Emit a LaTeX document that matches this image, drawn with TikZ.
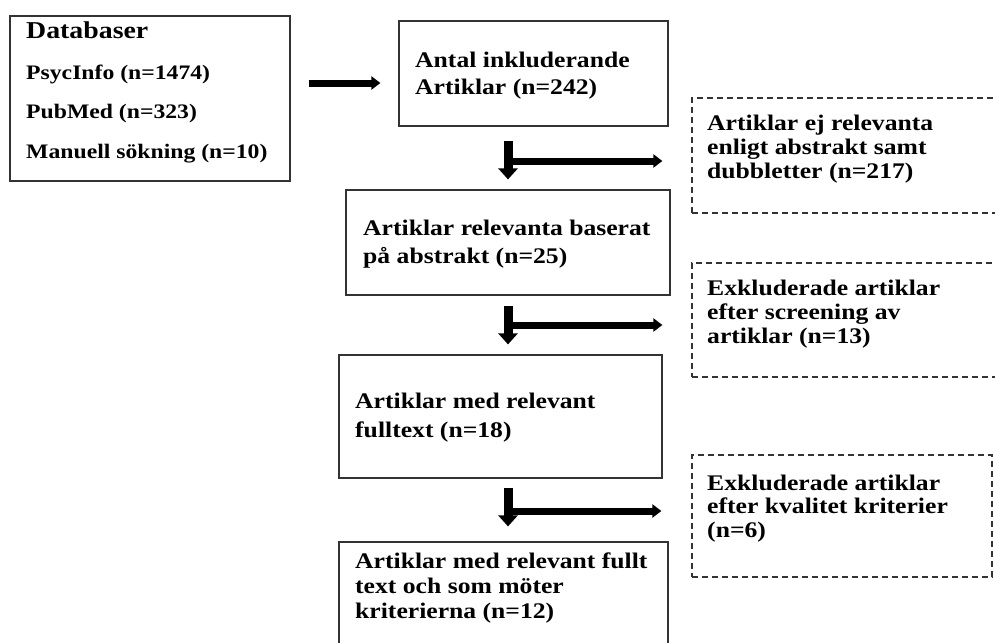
\documentclass[tikz,border=0pt]{standalone}
\usepackage{fontspec}
\setmainfont{Liberation Serif}[FakeStretch=1.15]
\usepackage{tikz}
\usetikzlibrary{arrows.meta,positioning}

\begin{document}
\begin{tikzpicture}[x=1pt,y=-1pt,
  box/.style={draw=black!80,line width=1.2pt,rectangle,inner sep=0pt},
  dbox/.style={box,dash pattern=on 6pt off 4pt},
  txt/.style={anchor=base west,align=left,inner sep=0pt,font=\bfseries\fontsize{22.3}{24}\selectfont},
  harrow/.style={line width=7pt,-{Triangle[length=9pt,width=13pt]}},
  varrow/.style={line width=9pt,-{Triangle[length=11pt,width=19pt]}}]
\useasboundingbox (0,0) rectangle (995,642);
\clip (0,0) rectangle (995,642);

\node[box,minimum width=280pt,minimum height=165pt] (db) at (150,98.5) {};
\node[box,minimum width=269pt,minimum height=105pt] (antal) at (533.5,73.5) {};
\node[box,minimum width=324pt,minimum height=105pt] (rel) at (508,242.5) {};
\node[box,minimum width=323pt,minimum height=123pt] (full) at (500.5,416.5) {};
\node[box,minimum width=329pt,minimum height=138pt] (final) at (503.5,611) {};
\node[dbox,minimum width=318pt,minimum height=115pt] (ex1) at (851,155.5) {};
\node[dbox,minimum width=318pt,minimum height=114pt] (ex2) at (851,320) {};
\node[dbox,minimum width=300pt,minimum height=122pt] (ex3) at (842,516) {};

\node[txt,font=\bfseries\fontsize{24.2}{28}\selectfont] (dbhead) at (26,38) {Databaser};
\node[txt,font=\bfseries\fontsize{20.6}{39.5}\selectfont] (dblist) at (26,158) {PsycInfo (n=1474)\\PubMed (n=323)\\Manuell sökning (n=10)};
\node[txt,font=\bfseries\fontsize{22.3}{27}\selectfont] (antaltxt) at (415,94) {Antal inkluderande\\Artiklar (n=242)};
\node[txt,font=\bfseries\fontsize{22.3}{28}\selectfont] (reltxt) at (363,263) {Artiklar relevanta baserat\\på abstrakt (n=25)};
\node[txt,font=\bfseries\fontsize{22.3}{29}\selectfont] (fulltxt) at (355,437) {Artiklar med relevant\\fulltext (n=18)};
\node[txt,font=\bfseries\fontsize{22.3}{25}\selectfont] (finaltxt) at (355,618) {Artiklar med relevant fullt\\text och som möter\\kriterierna (n=12)};
\node[txt] (ex1txt) at (707,178) {Artiklar ej relevanta\\enligt abstrakt samt\\dubbletter (n=217)};
\node[txt] (ex2txt) at (707,343) {Exkluderade artiklar\\efter screening av\\artiklar (n=13)};
\node[txt,font=\bfseries\fontsize{22.3}{23.5}\selectfont] (ex3txt) at (707,537) {Exkluderade artiklar\\efter kvalitet kriterier\\(n=6)};

\coordinate (b1) at (508,161);
\coordinate (b2) at (508,325);
\coordinate (b3) at (508,511);

\draw[harrow,shorten <=18pt,shorten >=18pt] ([yshift=15.5pt]db.east) -- ([yshift=15.5pt]db.east -| antal.west);
\draw[varrow,shorten <=14pt,shorten >=10pt] (rel.north |- antal.south) -- (rel.north);
\draw[varrow,shorten <=10pt,shorten >=10pt] (rel.south) -- (rel.south |- full.north);
\draw[varrow,shorten <=9pt,shorten >=15pt] (rel.south |- full.south) -- (rel.south |- final.north);
\draw[harrow,shorten >=29pt] (b1) -- (b1 -| ex1.west);
\draw[harrow,shorten >=29pt] (b2) -- (b2 -| ex2.west);
\draw[harrow,shorten >=30pt] (b3) -- (b3 -| ex3.west);

\end{tikzpicture}
\end{document}
